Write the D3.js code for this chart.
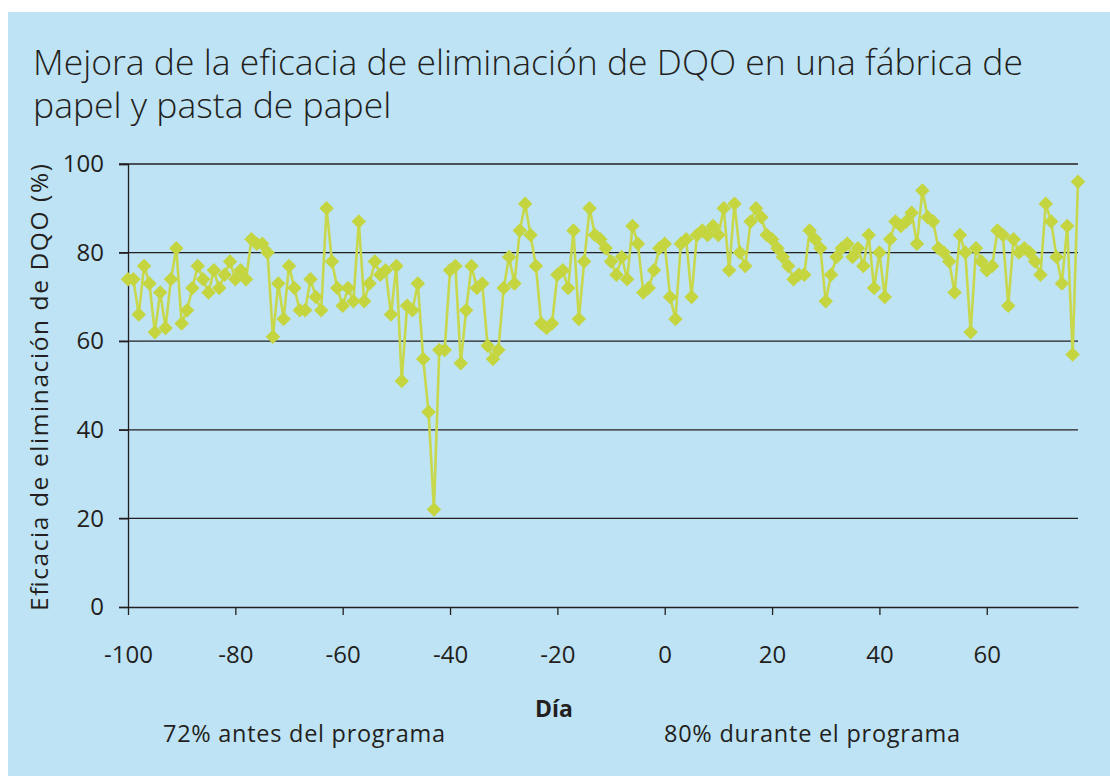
<html>
<head>
<meta charset="utf-8">
<style>
body { margin: 0; background: #fff; }
text { font-family: "Open Sans", "Noto Sans", sans-serif; fill: #231f20; }
</style>
</head>
<body>
<script src="https://cdnjs.cloudflare.com/ajax/libs/d3/7.8.5/d3.min.js"></script>
<script>

var titleLines = ["Mejora de la eficacia de eliminación de DQO en una fábrica de", "papel y pasta de papel"];
var yLabel = "Eficacia de eliminación de DQO (%)";
var xLabel = "Día";
var notes = ["72% antes del programa", "80% durante el programa"];

var xTicks = [-100, -80, -60, -40, -20, 0, 20, 40, 60];
var yTicks = [0, 20, 40, 60, 80, 100];

// dia -100 .. -1
var eficaciaAntes = [74, 74, 66, 77, 73, 62, 71, 63, 74, 81, 64, 67, 72, 77, 74, 71, 76, 72, 75, 78,
  74, 76, 74, 83, 82, 82, 80, 61, 73, 65, 77,
  72, 67, 67, 74, 70, 67, 90, 78, 72, 68, 72, 69, 87, 69, 73, 78, 75, 76, 66, 77,
  51, 68, 67, 73, 56, 44, 22, 58, 58,
  76, 77, 55, 67, 77, 72, 73, 59, 56, 58, 72, 79, 73, 85, 91, 84, 77, 64, 63, 64,
  75, 76, 72, 85, 65, 78, 90, 84,
  83, 81, 78, 75, 79, 74, 86, 82, 71, 72, 76, 81];
// dia 0 .. 77
var eficaciaDurante = [82, 70, 65, 82, 83, 70, 84, 85, 84, 86, 84, 90, 76, 91, 80, 77, 87, 90, 88, 84,
  83, 81, 79, 77, 74, 75, 75, 85, 83, 81, 69, 75, 79, 81, 82, 79, 81, 77, 84, 72,
  80, 70, 83, 87, 86, 87, 89, 82, 94, 88, 87, 81, 80, 78, 71, 84, 80, 62, 81, 78,
  76, 77, 85, 84, 68, 83, 80, 81, 80, 78, 75, 91, 87, 79, 73, 86, 57, 96];
var primerDia = -100;

var data = eficaciaAntes.concat(eficaciaDurante).map(function(v, i) {
  return {dia: primerDia + i, valor: v};
});

var W = 1110, H = 776;
var margin = {top: 164, right: 32, bottom: 169, left: 128},
    width = W - margin.left - margin.right,
    height = H - margin.top - margin.bottom;

var svg = d3.select("body").append("svg")
    .attr("width", W)
    .attr("height", H);

svg.append("rect")
    .attr("x", 8).attr("y", 12)
    .attr("width", W - 8).attr("height", H - 12)
    .attr("fill", "#bee3f5");

svg.append("g")
    .attr("font-size", 35.5)
  .selectAll("text")
  .data(titleLines)
  .enter().append("text")
    .attr("x", 33)
    .attr("y", function(d, i) { return 75 + i * 43; })
    .attr("font-weight", 300)
    .text(function(d) { return d; });

var g = svg.append("g").attr("transform", "translate(" + margin.left + "," + margin.top + ")");

var x = d3.scaleLinear().domain([-100, 77]).range([0, width]);
var y = d3.scaleLinear().domain([0, 100]).range([height, 0]);

// lineas de rejilla
g.append("g")
  .selectAll("line")
  .data(yTicks.filter(function(d) { return d > 0; }))
  .enter().append("line")
    .attr("x1", -9)
    .attr("x2", width)
    .attr("y1", function(d) { return y(d); })
    .attr("y2", function(d) { return y(d); })
    .attr("stroke", "#231f20")
    .attr("stroke-width", 1.3);

var fmt = function(d) { return String(d); };   // guion normal, no signo menos

var yAxis = g.append("g")
    .call(d3.axisLeft(y).tickValues(yTicks).tickFormat(fmt).tickSize(9).tickPadding(15));

var xAxis = g.append("g")
    .attr("transform", "translate(0," + height + ")")
    .call(d3.axisBottom(x).tickValues(xTicks).tickFormat(fmt).tickSize(8).tickSizeOuter(0).tickPadding(31));

[yAxis, xAxis].forEach(function(ax) {
  ax.attr("font-family", null).attr("font-size", null);
  ax.select(".domain").attr("stroke", "#231f20").attr("stroke-width", 1.3);
  ax.selectAll(".tick line").attr("stroke", "#231f20").attr("stroke-width", 1.3);
  ax.selectAll(".tick text").attr("font-size", 24).attr("fill", null);
});

// serie
var line = d3.line()
    .x(function(d) { return x(d.dia); })
    .y(function(d) { return y(d.valor); });

g.append("path")
    .datum(data)
    .attr("fill", "none")
    .attr("stroke", "#c8d84c")
    .attr("stroke-width", 2.6)
    .attr("stroke-linejoin", "round")
    .attr("d", line);

g.append("g")
  .selectAll("path")
  .data(data)
  .enter().append("path")
    .attr("d", d3.symbol().type(d3.symbolSquare).size(105))
    .attr("transform", function(d) { return "translate(" + x(d.dia) + "," + y(d.valor) + ") rotate(45)"; })
    .attr("fill", "#c4d540");

// etiquetas
svg.append("text")
    .attr("transform", "translate(48," + (margin.top + height / 2 + 2) + ") rotate(-90)")
    .attr("text-anchor", "middle")
    .attr("font-size", 24.5)
    .attr("textLength", 447)
    .attr("lengthAdjust", "spacing")
    .text(yLabel);

svg.append("text")
    .attr("x", 554)
    .attr("y", 717)
    .attr("text-anchor", "middle")
    .attr("font-size", 23)
    .attr("font-weight", "bold")
    .text(xLabel);

var notesX = [304, 812], notesW = [282, 296];
svg.append("g")
  .selectAll("text")
  .data(notes)
  .enter().append("text")
    .attr("x", function(d, i) { return notesX[i] - notesW[i] / 2; })
    .attr("y", 742)
    .attr("font-size", 23.5)
    .attr("textLength", function(d, i) { return notesW[i]; })
    .attr("lengthAdjust", "spacing")
    .text(function(d) { return d; });

</script>
</body>
</html>
